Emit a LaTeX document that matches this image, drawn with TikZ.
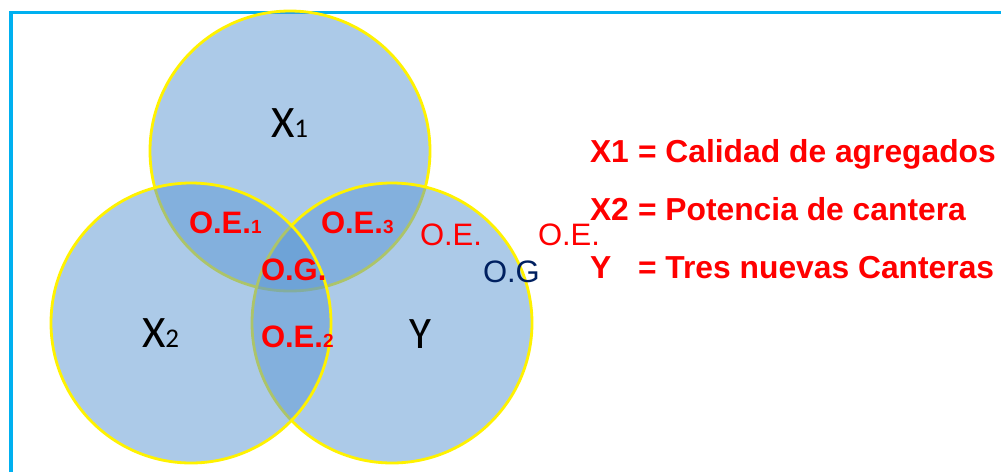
\documentclass[tikz,border=0pt]{standalone}
\usepackage{fontspec}
\setmainfont{Liberation Sans}
\newfontfamily\calib{Carlito}
\definecolor{framecol}{RGB}{0,176,240}
\definecolor{circfill}{RGB}{91,151,211}
\definecolor{ogblue}{RGB}{0,32,96}
\definecolor{lblred}{RGB}{255,0,0}
\begin{document}
\begin{tikzpicture}[x=1pt,y=-1pt,
  venn/.style={fill=circfill, fill opacity=0.5, draw=yellow, draw opacity=1, line width=2.8pt},
  txt/.style={inner sep=0pt, outer sep=0pt, anchor=base west},
  big/.style={txt, font=\calib\fontsize{45}{45}\selectfont},
  bold/.style={txt, text=lblred, font=\bfseries\fontsize{31}{31}\selectfont},
  thin/.style={txt, font=\fontsize{31}{31}\selectfont},
  legend/.style={txt, text=lblred, font=\bfseries\fontsize{31.8}{31.8}\selectfont}]
\useasboundingbox (0,0) rectangle (1001,472);
\fill[white] (0,0) rectangle (1001,472);
% frame
\draw[framecol, line width=3.5pt, line join=miter] (11,472) -- (11,12.5) -- (1001,12.5);
% circles
\path[venn] (290,151) circle[radius=140pt];
\path[venn] (392,323) circle[radius=140pt];
\path[venn] (191,323) circle[radius=140pt];
% set names
\node[big] (nx1) at (271,137) {X{\fontsize{27}{27}\selectfont 1}};
\node[big] (nx2) at (142,347) {X{\fontsize{27}{27}\selectfont 2}};
\node[big] (ny) at (409,348) {Y};
% region labels
\node[bold] (oe1) at (189,233) {O.E.{\fontsize{19}{19}\selectfont 1}};
\node[bold] (oe3) at (321,233) {O.E.{\fontsize{19}{19}\selectfont 3}};
\node[bold] (og) at (261,280) {O.G.};
\node[bold] (oe2) at (261,347) {O.E.{\fontsize{19}{19}\selectfont 2}};
\node[thin, text=lblred] (oea) at (420,245) {O.E.};
\node[thin, text=lblred] (oeb) at (538,245) {O.E.};
\node[thin, text=ogblue] (ogb) at (483,282) {O.G};
% legend
\node[legend] (l1a) at (590,162) {X1};
\node[legend] (l1b) at (638,162) {= Calidad de agregados};
\node[legend] (l2a) at (590,220) {X2};
\node[legend] (l2b) at (638,220) {= Potencia de cantera};
\node[legend] (l3a) at (590,278) {Y};
\node[legend] (l3b) at (638,278) {= Tres nuevas Canteras};
\end{tikzpicture}
\end{document}
